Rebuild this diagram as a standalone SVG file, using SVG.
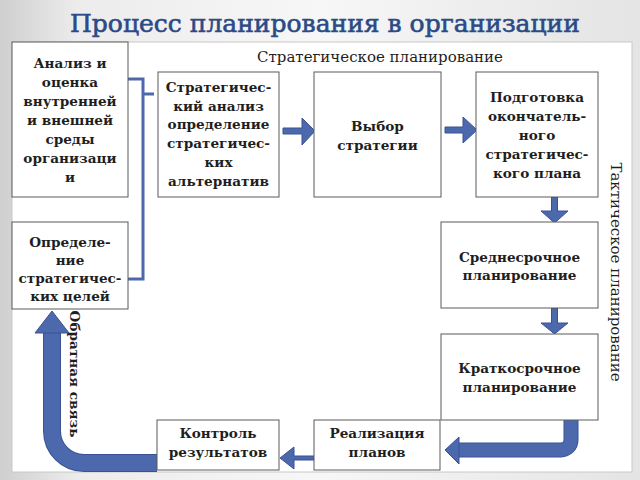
<svg xmlns="http://www.w3.org/2000/svg" width="640" height="480" viewBox="0 0 640 480">
  <defs>
    <linearGradient id="bg" x1="0" y1="0" x2="1" y2="0">
      <stop offset="0" stop-color="#cfcfcf"/>
      <stop offset="0.12" stop-color="#ececec"/>
      <stop offset="0.5" stop-color="#f7f7f7"/>
      <stop offset="1" stop-color="#e4e4e4"/>
    </linearGradient>
    <style>
      .box { fill: #ffffff; stroke: #5a5a5a; stroke-width: 1; }
      .t { font-family: "DejaVu Serif", "Liberation Serif", serif; font-weight: bold; font-size: 13.6px; fill: #1e1e1e; text-anchor: middle; }
      .lbl { font-family: "DejaVu Serif", "Liberation Serif", serif; font-size: 15px; fill: #1e1e1e; }
      .arr { fill: #4d69ae; stroke: #3a5293; stroke-width: 1; }
      .br { fill: none; stroke: #4d69ae; stroke-width: 3; }
    </style>
  </defs>

  <rect x="0" y="0" width="640" height="480" fill="url(#bg)"/>
  <rect x="12" y="42" width="620" height="430" fill="#ffffff" stroke="#c8c8c8" stroke-width="1"/>

  <text x="325" y="32" font-family="'DejaVu Serif', 'Liberation Serif', serif" font-size="25" fill="#2b4a86" stroke="#2b4a86" stroke-width="0.6" text-anchor="middle">Процесс планирования в организации</text>

  <text class="lbl" x="380" y="62" text-anchor="middle">Стратегическое планирование</text>
  <text class="lbl" x="0" y="0" text-anchor="middle" transform="translate(611 272) rotate(90)">Тактическое планирование</text>
  <text class="t" x="0" y="0" transform="translate(70 374) rotate(90)">Обратная связь</text>

  <g id="connectors">
    <path class="br" d="M128 79 H143 V279 H128 M143 94 H154"/>
    <polygon class="arr" points="283,128 302,128 302,118 315,131 302,145 302,134 283,134"/>
    <polygon class="arr" points="445,127 463,127 463,117 477,130 463,143 463,133 445,133"/>
    <polygon class="arr" points="551.5,197 557.5,197 557.5,211 568,211 554.5,223 541,211 551.5,211"/>
    <polygon class="arr" points="551.5,308 557.5,308 557.5,323 568,323 554.5,334 541,323 551.5,323"/>
    <path d="M571 420 V440 A10 10 0 0 1 561 450 H458" fill="none" stroke="#3a5293" stroke-width="15"/>
    <path d="M571 420 V440 A10 10 0 0 1 561 450 H458" fill="none" stroke="#4d69ae" stroke-width="13"/>
    <polygon class="arr" points="459,437 445,450 459,464"/>
    <polygon class="arr" points="314,456 294,456 294,447 280,458 294,469 294,460 314,460"/>
    <path d="M157 463 H84 A32 32 0 0 1 52 431 V332" fill="none" stroke="#3a5293" stroke-width="18"/>
    <path d="M157 463 H84 A32 32 0 0 1 52 431 V332" fill="none" stroke="#4d69ae" stroke-width="16"/>
    <polygon class="arr" points="35,333 52,311 69,333"/>
  </g>

  <g id="n-analysis">
    <rect class="box" x="12" y="42" width="116" height="155"/>
    <text class="t" x="70" y="68">Анализ и<tspan x="70" y="87">оценка</tspan><tspan x="70" y="106">внутренней</tspan><tspan x="70" y="125">и внешней</tspan><tspan x="70" y="144">среды</tspan><tspan x="70" y="163">организаци</tspan><tspan x="70" y="182">и</tspan></text>
  </g>

  <g id="n-goals">
    <rect class="box" x="12" y="222" width="116" height="87"/>
    <text class="t" x="70" y="247">Определе-<tspan x="70" y="265">ние</tspan><tspan x="70" y="283">стратегичес-</tspan><tspan x="70" y="301">ких целей</tspan></text>
  </g>

  <g id="n-strat-analysis">
    <rect class="box" x="158" y="72" width="121" height="125"/>
    <text class="t" x="218.5" y="92">Стратегичес-<tspan x="218.5" y="111">кий анализ</tspan><tspan x="218.5" y="129">определение</tspan><tspan x="218.5" y="148">стратегичес-</tspan><tspan x="218.5" y="167">ких</tspan><tspan x="218.5" y="186">альтернатив</tspan></text>
  </g>

  <g id="n-choice">
    <rect class="box" x="314" y="72" width="127" height="125"/>
    <text class="t" x="377.5" y="131">Выбор<tspan x="377.5" y="150">стратегии</tspan></text>
  </g>

  <g id="n-final-plan">
    <rect class="box" x="476" y="72" width="122" height="125"/>
    <text class="t" x="537" y="102">Подготовка<tspan x="537" y="121">окончатель-</tspan><tspan x="537" y="140">ного</tspan><tspan x="537" y="159">стратегичес-</tspan><tspan x="537" y="178">кого плана</tspan></text>
  </g>

  <g id="n-midterm">
    <rect class="box" x="441" y="222" width="157" height="86"/>
    <text class="t" x="519.5" y="262">Среднесрочное<tspan x="519.5" y="280">планирование</tspan></text>
  </g>

  <g id="n-shortterm">
    <rect class="box" x="441" y="334" width="157" height="86"/>
    <text class="t" x="519.5" y="373">Краткосрочное<tspan x="519.5" y="392">планирование</tspan></text>
  </g>

  <g id="n-realization">
    <rect class="box" x="314" y="420" width="126" height="50"/>
    <text class="t" x="377" y="438">Реализация<tspan x="377" y="457">планов</tspan></text>
  </g>

  <g id="n-control">
    <rect class="box" x="157" y="420" width="122" height="50"/>
    <text class="t" x="218" y="438">Контроль<tspan x="218" y="457">результатов</tspan></text>
  </g>
</svg>
